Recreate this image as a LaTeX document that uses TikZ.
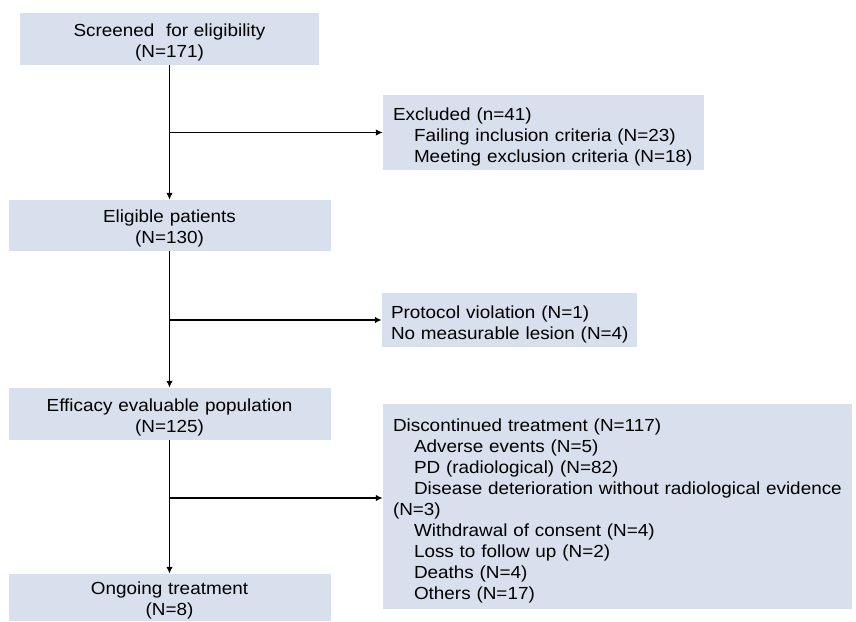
\documentclass[tikz,border=0pt]{standalone}
\usepackage{fontspec}
\setmainfont{Liberation Sans}[FakeStretch=1.08]
\usepackage{tikz}
\usetikzlibrary{arrows.meta, positioning}
\definecolor{boxcolor}{RGB}{217,224,237}

\begin{document}
\begin{tikzpicture}[
    x=1pt, y=-1pt,
    flowbox/.style={fill=boxcolor, inner sep=0pt, font=\fontsize{17.5}{21}\selectfont},
    part/.style={flowbox, align=center, execute at begin node={\rule{0pt}{19pt}}},
    side/.style={flowbox, align=left, inner xsep=5pt,
        execute at begin node={\leftskip=5pt\rule{0pt}{21.5pt}}},
    arrow/.style={-{Latex[length=7pt,width=6.5pt]}, line width=1.8pt}
]
    \useasboundingbox (0,0) rectangle (856,621);

    \node[part, text width=299pt, minimum height=52pt] (screen) at (169.5,39) {Screened~~for eligibility\\(N=171)};
    \node[part, text width=322pt, minimum height=51pt] (elig) at (169.5,225.5) {Eligible patients\\(N=130)};
    \node[part, text width=322pt, minimum height=52pt] (effic) at (169.5,414) {Efficacy evaluable population\\(N=125)};
    \node[part, text width=322pt, minimum height=47pt] (ongoing) at (169.5,597.5) {Ongoing treatment\\(N=8)};

    \node[side, text width=311pt, minimum height=75pt] (excl) at (543.5,132.5) {Excluded (n=41)\\
        \hspace*{21pt}Failing inclusion criteria (N=23)\\
        \hspace*{21pt}Meeting exclusion criteria (N=18)};
    \node[side, inner xsep=4pt, text width=247pt, minimum height=54pt] (proto) at (509.5,320) {Protocol violation (N=1)\\
        No measurable lesion (N=4)};
    \node[side, text width=459pt, minimum height=205pt] (disc) at (617.5,506.5) {Discontinued treatment (N=117)\\
        \hspace*{21pt}Adverse events (N=5)\\
        \hspace*{21pt}PD (radiological) (N=82)\\
        \hspace*{21pt}Disease deterioration without radiological evidence\\
        (N=3)\\
        \hspace*{21pt}Withdrawal of consent (N=4)\\
        \hspace*{21pt}Loss to follow up (N=2)\\
        \hspace*{21pt}Deaths (N=4)\\
        \hspace*{21pt}Others (N=17)};

    \coordinate (j1) at (screen.south |- excl.west);
    \coordinate (j2) at (elig.south |- proto.west);
    \coordinate (j3) at (169.5,498);

    \draw[arrow] (screen) -- (elig);
    \draw[arrow] (elig) -- (effic);
    \draw[arrow] (effic) -- (ongoing);
    \draw[arrow] (j1) -- (excl.west);
    \draw[arrow] (j2) -- (proto.west);
    \draw[arrow] (j3) -- (j3 -| disc.west);
\end{tikzpicture}
\end{document}
